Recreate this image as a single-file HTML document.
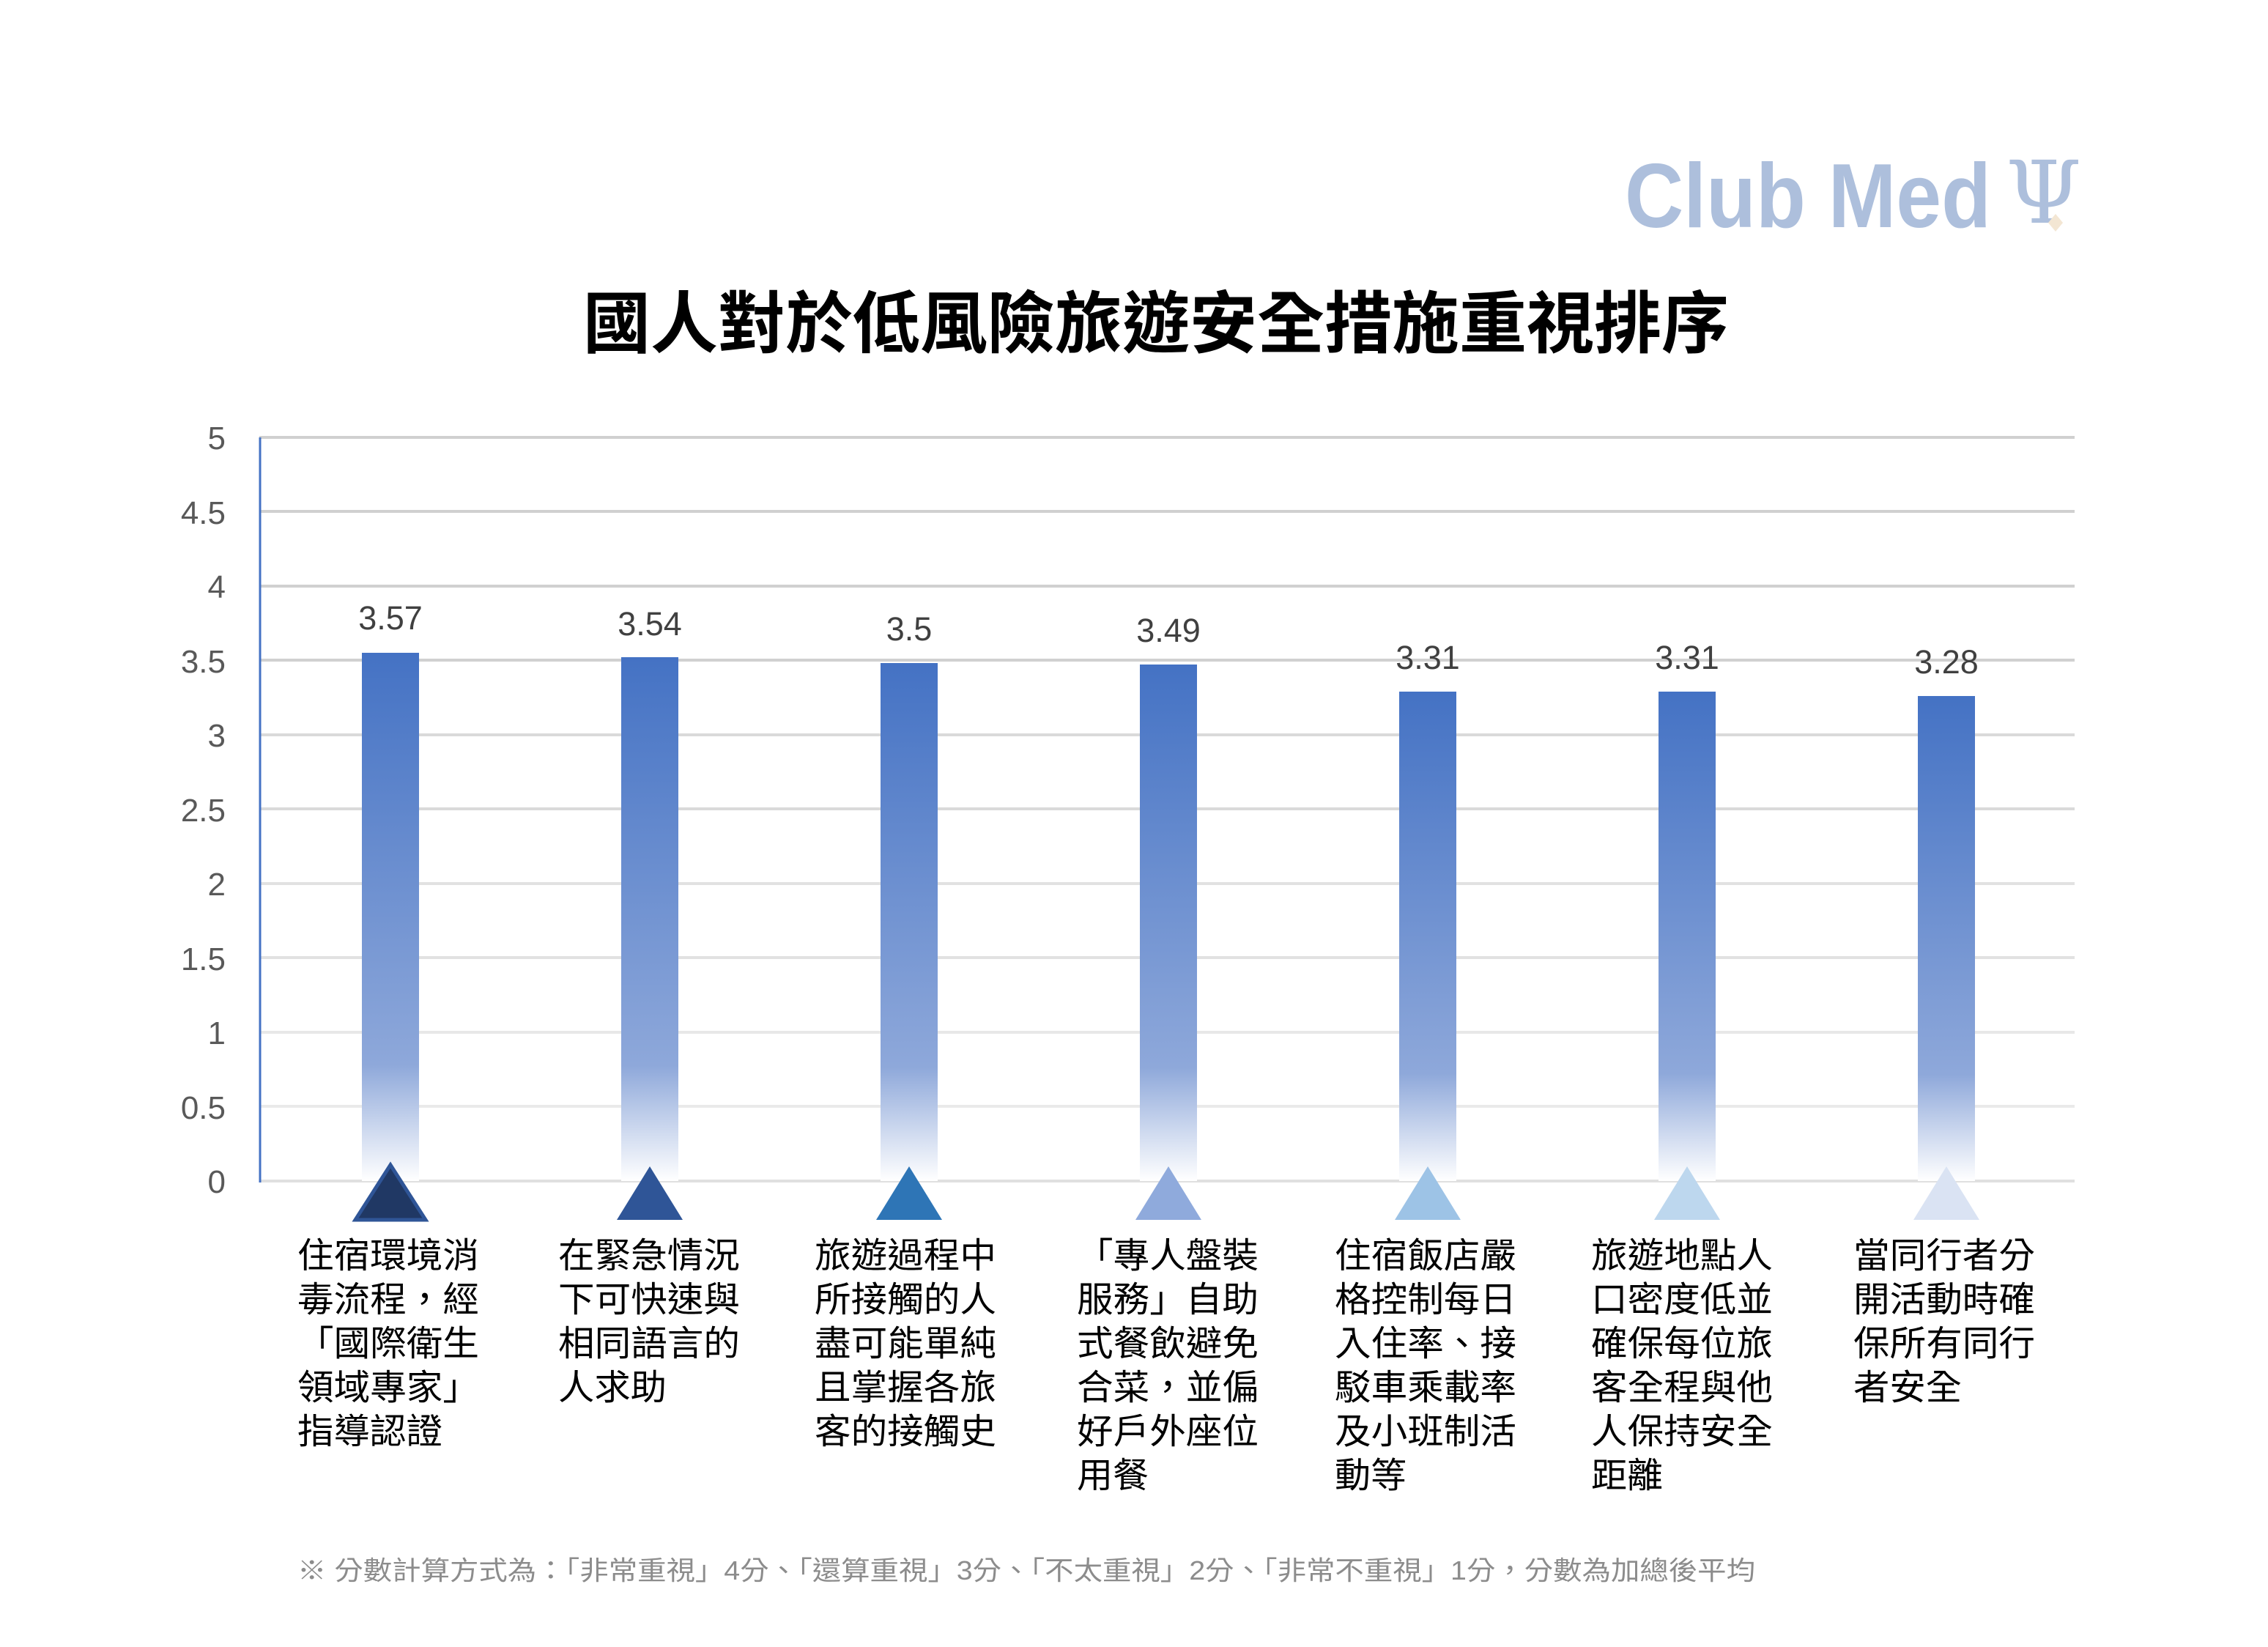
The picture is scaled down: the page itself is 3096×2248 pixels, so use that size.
<!DOCTYPE html>
<html><head><meta charset="utf-8"><style>
html,body{margin:0;padding:0;background:#fff;}
svg{display:block;}
</style></head><body>
<svg width="3096" height="2248" viewBox="0 0 3096 2248" xmlns="http://www.w3.org/2000/svg">
<defs>
<linearGradient id="bg" x1="0" y1="0" x2="0" y2="1">
<stop offset="0" stop-color="#4472c4"/>
<stop offset="0.78" stop-color="#8ea8da"/>
<stop offset="1" stop-color="#ffffff"/>
</linearGradient>
</defs>
<rect width="3096" height="2248" fill="#fff"/>
<!-- logo -->
<text x="2218" y="310" textLength="500" lengthAdjust="spacingAndGlyphs" font-family="Liberation Sans, sans-serif" font-weight="bold" font-size="124" fill="#adbfdc">Club Med</text>
<text x="2738" y="304" font-family="DejaVu Serif, serif" font-size="118" fill="#adbfdc">Ψ</text>
<path d="M2806 292 l10 12 -10 12 -10 -12z" fill="#f3e6d3"/>
<!-- title -->
<text x="1578" y="474" text-anchor="middle" font-family="Liberation Sans, 'Noto Sans CJK TC', sans-serif" font-weight="bold" font-size="92" fill="#000">國人對於低風險旅遊安全措施重視排序</text>
<!-- grid -->
<g stroke="#d0d0d0" stroke-width="4">
<line x1="354" y1="597" x2="2832" y2="597"/>
<line x1="354" y1="698" x2="2832" y2="698"/>
<line x1="354" y1="800" x2="2832" y2="800"/>
<line x1="354" y1="901" x2="2832" y2="901"/>
<line x1="354" y1="1003" x2="2832" y2="1003" stroke="#dadada"/>
<line x1="354" y1="1104" x2="2832" y2="1104" stroke="#dadada"/>
<line x1="354" y1="1206" x2="2832" y2="1206" stroke="#e2e2e2"/>
<line x1="354" y1="1307" x2="2832" y2="1307" stroke="#e2e2e2"/>
<line x1="354" y1="1409" x2="2832" y2="1409" stroke="#e8e8e8"/>
<line x1="354" y1="1510" x2="2832" y2="1510" stroke="#eaeaea"/>
<line x1="354" y1="1612" x2="2832" y2="1612" stroke="#e0e0e0"/>
</g>
<line x1="355" y1="597" x2="355" y2="1614" stroke="#4472c4" stroke-width="3"/>
<!-- y ticks -->
<g font-family="Liberation Sans, sans-serif" font-size="44" fill="#595959" text-anchor="end">
<text x="308" y="613">5</text><text x="308" y="715">4.5</text><text x="308" y="816">4</text>
<text x="308" y="918">3.5</text><text x="308" y="1019">3</text><text x="308" y="1121">2.5</text>
<text x="308" y="1222">2</text><text x="308" y="1324">1.5</text><text x="308" y="1425">1</text>
<text x="308" y="1527">0.5</text><text x="308" y="1628">0</text>
</g>
<!-- bars -->
<g fill="url(#bg)">
<rect x="494" y="891" width="78" height="721"/>
<rect x="848" y="897" width="78" height="715"/>
<rect x="1202" y="905" width="78" height="707"/>
<rect x="1556" y="907" width="78" height="705"/>
<rect x="1910" y="944" width="78" height="668"/>
<rect x="2264" y="944" width="78" height="668"/>
<rect x="2618" y="950" width="78" height="662"/>
</g>
<g font-family="Liberation Sans, sans-serif" font-size="45" fill="#404040" text-anchor="middle">
<text x="533" y="859">3.57</text><text x="887" y="867">3.54</text><text x="1241" y="874">3.5</text>
<text x="1595" y="876">3.49</text><text x="1949" y="913">3.31</text><text x="2303" y="913">3.31</text>
<text x="2657" y="919">3.28</text>
</g>
<!-- triangles -->
<polygon points="533,1590 485,1665 581,1665" fill="#203864" stroke="#2f5597" stroke-width="5"/>
<polygon points="887,1592 842,1665 932,1665" fill="#2f5597"/>
<polygon points="1241,1592 1196,1665 1286,1665" fill="#2e75b6"/>
<polygon points="1595,1592 1550,1665 1640,1665" fill="#8faadc"/>
<polygon points="1949,1592 1904,1665 1994,1665" fill="#9dc3e6"/>
<polygon points="2303,1592 2258,1665 2348,1665" fill="#bdd7ee"/>
<polygon points="2657,1592 2612,1665 2702,1665" fill="#dae3f3"/>
<!-- labels -->
<g font-family="Liberation Sans, 'Noto Sans CJK TC', sans-serif" font-size="48" fill="#000">
<g transform="translate(406,0)">
<text y="1730" textLength="248" lengthAdjust="spacingAndGlyphs">住宿環境消</text>
<text y="1790" textLength="248" lengthAdjust="spacingAndGlyphs">毒流程，經</text>
<text y="1850" textLength="248" lengthAdjust="spacingAndGlyphs">「國際衛生</text>
<text y="1910" textLength="248" lengthAdjust="spacingAndGlyphs">領域專家」</text>
<text y="1970" textLength="198" lengthAdjust="spacingAndGlyphs">指導認證</text>
</g>
<g transform="translate(762,0)">
<text y="1730" textLength="248" lengthAdjust="spacingAndGlyphs">在緊急情況</text>
<text y="1790" textLength="248" lengthAdjust="spacingAndGlyphs">下可快速與</text>
<text y="1850" textLength="248" lengthAdjust="spacingAndGlyphs">相同語言的</text>
<text y="1910" textLength="148" lengthAdjust="spacingAndGlyphs">人求助</text>
</g>
<g transform="translate(1112,0)">
<text y="1730" textLength="248" lengthAdjust="spacingAndGlyphs">旅遊過程中</text>
<text y="1790" textLength="248" lengthAdjust="spacingAndGlyphs">所接觸的人</text>
<text y="1850" textLength="248" lengthAdjust="spacingAndGlyphs">盡可能單純</text>
<text y="1910" textLength="248" lengthAdjust="spacingAndGlyphs">且掌握各旅</text>
<text y="1970" textLength="248" lengthAdjust="spacingAndGlyphs">客的接觸史</text>
</g>
<g transform="translate(1470,0)">
<text y="1730" textLength="248" lengthAdjust="spacingAndGlyphs">「專人盤裝</text>
<text y="1790" textLength="248" lengthAdjust="spacingAndGlyphs">服務」自助</text>
<text y="1850" textLength="248" lengthAdjust="spacingAndGlyphs">式餐飲避免</text>
<text y="1910" textLength="248" lengthAdjust="spacingAndGlyphs">合菜，並偏</text>
<text y="1970" textLength="248" lengthAdjust="spacingAndGlyphs">好戶外座位</text>
<text y="2030" textLength="98" lengthAdjust="spacingAndGlyphs">用餐</text>
</g>
<g transform="translate(1822,0)">
<text y="1730" textLength="248" lengthAdjust="spacingAndGlyphs">住宿飯店嚴</text>
<text y="1790" textLength="248" lengthAdjust="spacingAndGlyphs">格控制每日</text>
<text y="1850" textLength="248" lengthAdjust="spacingAndGlyphs">入住率、接</text>
<text y="1910" textLength="248" lengthAdjust="spacingAndGlyphs">駁車乘載率</text>
<text y="1970" textLength="248" lengthAdjust="spacingAndGlyphs">及小班制活</text>
<text y="2030" textLength="98" lengthAdjust="spacingAndGlyphs">動等</text>
</g>
<g transform="translate(2172,0)">
<text y="1730" textLength="248" lengthAdjust="spacingAndGlyphs">旅遊地點人</text>
<text y="1790" textLength="248" lengthAdjust="spacingAndGlyphs">口密度低並</text>
<text y="1850" textLength="248" lengthAdjust="spacingAndGlyphs">確保每位旅</text>
<text y="1910" textLength="248" lengthAdjust="spacingAndGlyphs">客全程與他</text>
<text y="1970" textLength="248" lengthAdjust="spacingAndGlyphs">人保持安全</text>
<text y="2030" textLength="98" lengthAdjust="spacingAndGlyphs">距離</text>
</g>
<g transform="translate(2530,0)">
<text y="1730" textLength="248" lengthAdjust="spacingAndGlyphs">當同行者分</text>
<text y="1790" textLength="248" lengthAdjust="spacingAndGlyphs">開活動時確</text>
<text y="1850" textLength="248" lengthAdjust="spacingAndGlyphs">保所有同行</text>
<text y="1910" textLength="148" lengthAdjust="spacingAndGlyphs">者安全</text>
</g>
</g>
<!-- footnote -->
<text x="406" y="2156" textLength="1990" lengthAdjust="spacingAndGlyphs" font-family="Liberation Sans, 'Noto Sans CJK TC', sans-serif" font-size="36" fill="#8c8c8c">※ 分數計算方式為：「非常重視」4分、「還算重視」3分、「不太重視」2分、「非常不重視」1分，分數為加總後平均</text>
</svg>
</body></html>
